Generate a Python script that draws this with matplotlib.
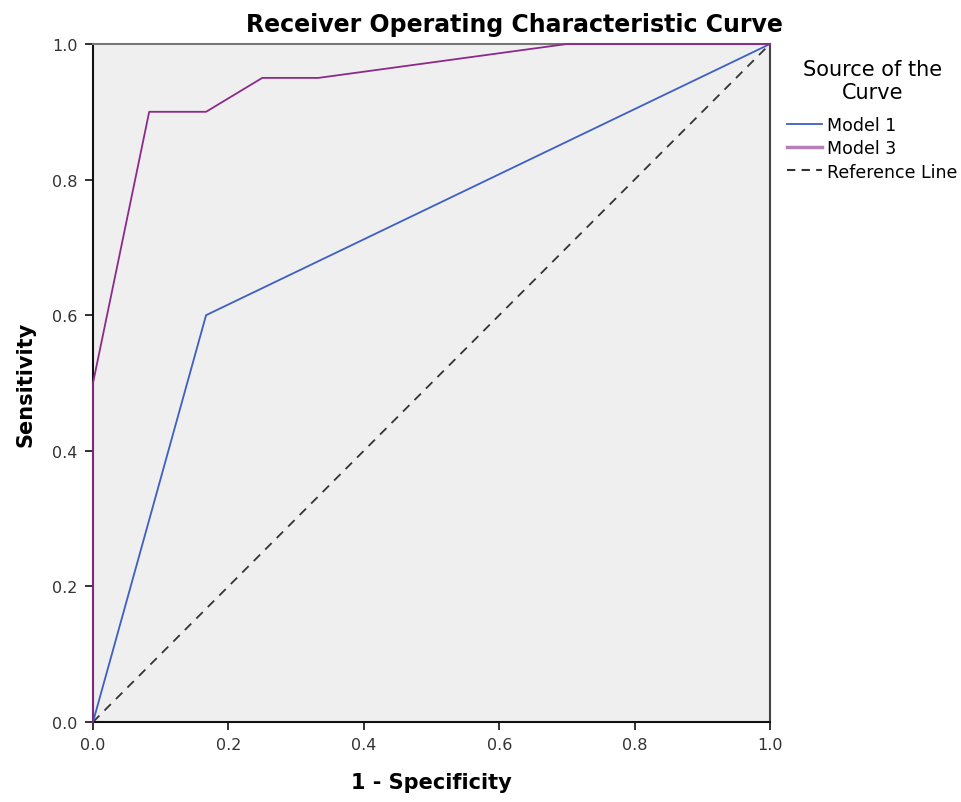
import matplotlib
matplotlib.use("Agg")
import matplotlib.pyplot as plt
from matplotlib.lines import Line2D

model1_x = [0.0, 0.167, 1.0]
model1_y = [0.0, 0.6, 1.0]
model3_x = [0.0, 0.0, 0.083, 0.167, 0.25, 0.333, 0.70, 1.0]
model3_y = [0.0, 0.5, 0.9, 0.9, 0.95, 0.95, 1.0, 1.0]
ref_x = [0.0, 1.0]
ref_y = [0.0, 1.0]
ticks = [0.0, 0.2, 0.4, 0.6, 0.8, 1.0]

fig = plt.figure(figsize=(9.61, 8.03), dpi=100)
ax = fig.add_axes([93/961, 80/803, (770-93)/961, (723-45)/803])
ax.set_facecolor('#efefef')

ax.plot(ref_x, ref_y, color='#333333', lw=1.3, ls=(0, (5, 4)), zorder=2)
ax.plot(model1_x, model1_y, color='#3d5fc4', lw=1.3, zorder=3)
ax.plot(model3_x, model3_y, color='#8c2a8c', lw=1.3, zorder=4, clip_on=False)

ax.set_xlim(0, 1)
ax.set_ylim(0, 1)
ax.set_xticks(ticks)
ax.set_yticks(ticks)
ax.set_xticklabels([f"{t:.1f}" for t in ticks])
ax.set_yticklabels([f"{t:.1f}" for t in ticks])
ax.tick_params(direction='out', length=6, width=1.3, colors='#222222',
               labelcolor='#333333', labelsize=11.5, pad=5)
for s in ['left', 'bottom']:
    ax.spines[s].set_linewidth(1.5)
    ax.spines[s].set_color('#111111')
ax.spines['right'].set_linewidth(1.5)
ax.spines['right'].set_color('#444444')
ax.spines['top'].set_linewidth(1.5)
ax.spines['top'].set_color('#777777')

ax.set_xlabel('1 - Specificity', fontsize=15, fontweight='bold', labelpad=14)
ax.set_ylabel('Sensitivity', fontsize=15, fontweight='bold', labelpad=12)
fig.text(514/961, 1 - 25/803, 'Receiver Operating Characteristic Curve',
         ha='center', va='center', fontsize=17, fontweight='bold')

handles = [Line2D([0], [0], color='#3d5fc4', lw=1.3),
           Line2D([0], [0], color='#b77fb7', lw=2.5),
           Line2D([0], [0], color='#333333', lw=1.5, ls=(0, (4, 3)))]
leg = fig.legend(handles, ['Model 1', 'Model 3', 'Reference Line'],
                 title='Source of the\nCurve', loc='upper left',
                 bbox_to_anchor=(787/961, 1 - 60/803), frameon=False,
                 fontsize=12.5, title_fontsize=15, handlelength=2.0,
                 handletextpad=0.3, labelspacing=0.3, borderaxespad=0,
                 borderpad=0)
leg.get_title().set_multialignment('center')
leg._legend_box.sep = 10

fig.savefig('out.png', dpi=100)
